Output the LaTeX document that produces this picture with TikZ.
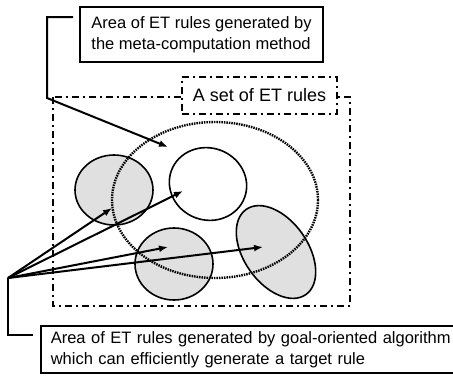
\documentclass[tikz,border=0pt]{standalone}
\usepackage{fontspec}
\setmainfont{Liberation Sans}
\usetikzlibrary{shapes.geometric,arrows.meta}

\begin{document}
\begin{tikzpicture}[x=1pt,y=-1pt,
  Area/.style={ellipse,draw,line width=1.6pt,inner sep=0pt},
  Shaded/.style={Area,fill=black!12},
  Tag/.style={draw,line width=1.6pt,align=left,inner xsep=10pt,font=\fontsize{16.5}{21}\selectfont},
  SetLine/.style={line width=1.8pt,dash pattern=on 7pt off 4pt on 2pt off 4pt},
  Lead/.style={line width=2pt},
  Pointer/.style={Lead,-{Latex[length=9pt,width=7pt]}}]
\useasboundingbox (0,0) rectangle (453,381);

% areas of goal-oriented generation
\node[Shaded,minimum width=78pt,minimum height=70pt] (A1) at (114,190) {};
\node[Area,minimum width=78pt,minimum height=72pt,rotate=-20] (A2) at (208,184) {};
\node[Shaded,minimum width=78pt,minimum height=72pt] (A3) at (174,264) {};
\node[Shaded,minimum width=104pt,minimum height=64pt,rotate=-55] (A4) at (276,252) {};

% area of meta-computation
\node[ellipse,draw,line width=2.4pt,dash pattern=on 1.5pt off 1pt,minimum width=206pt,minimum height=156pt] (Meta) at (215,200) {};

% set of ET rules
\draw[SetLine] (53,97) rectangle (350,306);
\node[Tag,SetLine,fill=white,minimum width=155pt,minimum height=37pt,font=\fontsize{18}{21}\selectfont] (SetTag) at (259.5,95.5) {A set of ET rules};

% labels
\node[Tag,minimum width=243pt,minimum height=55pt] (MetaTag) at (201.5,34.5) {Area of ET rules generated by\\the meta-computation method};
\node[Tag,anchor=north west,text width=420pt,minimum height=47pt] (GoalTag) at (40,325) {Area of ET rules generated by goal-oriented algorithm\\which can efficiently generate a target rule};

\coordinate (M1) at (47,98);
\coordinate (M2) at (168,147);
\coordinate (G0) at (8,278);
\coordinate (G1) at (112,208);
\coordinate (G2) at (183,191);
\coordinate (G3) at (168,247);
\coordinate (G4) at (263,247);

\draw[Pointer] ([shift={(-6,11)}]MetaTag.north west) -| (M1) -- (M2);
\draw[Lead] (G0) |- ([shift={(-7,10)}]GoalTag.north west);
\foreach \t in {G1,G2,G3,G4}
  \draw[Pointer] (G0) -- (\t);
\end{tikzpicture}
\end{document}
